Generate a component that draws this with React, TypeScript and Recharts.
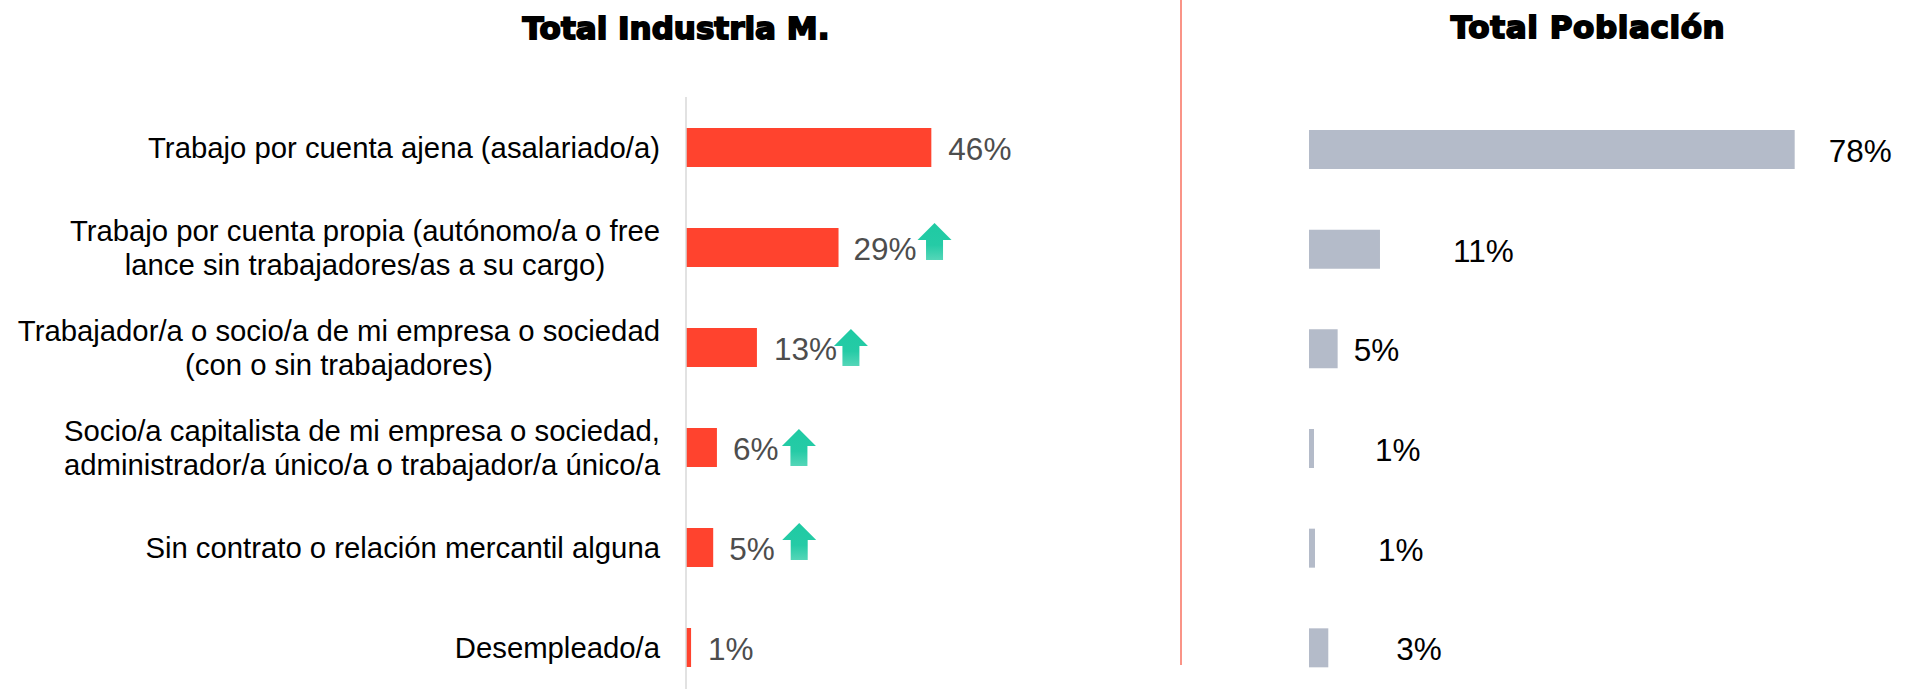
import React from "react";
import { BarChart, Bar, XAxis, YAxis, LabelList } from "recharts";

const categories = [
  "Trabajo por cuenta ajena (asalariado/a)",
  "Trabajo por cuenta propia (autónomo/a o free\nlance sin trabajadores/as a su cargo)",
  "Trabajador/a o socio/a de mi empresa o sociedad\n(con o sin trabajadores)",
  "Socio/a capitalista de mi empresa o sociedad,\nadministrador/a único/a o trabajador/a único/a",
  "Sin contrato o relación mercantil alguna",
  "Desempleado/a",
];
const industriaValues = [46, 28.6, 13.3, 5.8, 5.1, 0.95];
const poblacionValues = [78, 11.4, 4.6, 0.8, 0.96, 3.1];
const risingFlags = [false, true, true, true, true, false];
const titles = ["Total Industria M.", "Total Población"];

const industriaData = categories.map((name, i) => ({
  name,
  value: industriaValues[i],
  rising: risingFlags[i],
}));
const poblacionData = categories.map((name, i) => ({
  name,
  value: poblacionValues[i],
}));

const leftLabelGap = [17, 15, 17, 16, 16, 17];
const rightLabelGap = [34, 73, 16, 61, 63, 68];
const arrowDx = [0, 96, 94, 82, 86, 0];
const arrowDy = [0, -5, 1, 1, -5, 0];

const FONT = "'Liberation Sans', Arial, sans-serif";
const CAT_SIZE = 29.3;

const measure = (s: string) => {
  const ctx = document.createElement("canvas").getContext("2d")!;
  ctx.font = `${CAT_SIZE}px 'Liberation Sans'`;
  return ctx.measureText(s).width;
};

const CategoryTick = (props: any) => {
  const { y, payload } = props;
  const lines = String(payload.value).split("\n");
  const lh = 34;
  const start = y - ((lines.length - 1) * lh) / 2 + 1;
  const right = 660;
  const blockWidth = Math.max(...lines.map(measure));
  const cx = right - blockWidth / 2;
  return (
    <text x={cx} y={start} textAnchor="middle" fontFamily={FONT} fontSize={CAT_SIZE} fill="#000">
      {lines.map((l: string, i: number) => (
        <tspan key={i} x={cx} y={start + i * lh} dy="0.35em">
          {l}
        </tspan>
      ))}
    </text>
  );
};

const valueLabel = (gaps: number[], fill: string) => (props: any) => {
  const { x, y, width, height, value, index } = props;
  return (
    <text
      x={x + width + gaps[index]}
      y={y + height / 2 + 1.5}
      dy="0.35em"
      fontFamily={FONT}
      fontSize={31.5}
      fill={fill}
    >
      {Math.round(value)}%
    </text>
  );
};

const arrowLabel = (props: any) => {
  const { x, y, width, index } = props;
  if (!risingFlags[index]) return null;
  const cx = x + width + arrowDx[index];
  const top = y + arrowDy[index];
  const d = `M${cx} ${top}L${cx + 17} ${top + 17}H${cx + 8.5}V${top + 37}H${cx - 8.5}V${top + 17}H${cx - 17}Z`;
  return <path d={d} fill="url(#arrowFill2)" />;
};

const titleProps = {
  textAnchor: "middle" as const,
  fontFamily: "'DejaVu Sans', sans-serif",
  fontWeight: 700,
  fontSize: 31,
  stroke: "#000",
  strokeWidth: 1.8,
  fill: "#000",
};

export default function App() {
  return (
    <div style={{ position: "absolute", left: 0, top: 0, width: 1906, height: 689, overflow: "hidden", background: "#fff" }}>
      <svg width={1906} height={689} style={{ position: "absolute", left: 0, top: 0 }}>
        <text x={676} y={39} {...titleProps}>
          {titles[0]}
        </text>
        <text x={1588} y={38} {...titleProps} letterSpacing={0.6}>
          {titles[1]}
        </text>
        <line x1={1181} y1={0} x2={1181} y2={665} stroke="#f9705f" strokeWidth={1.5} />
      </svg>
      <div style={{ position: "absolute", left: 0, top: 97 }}>
        <BarChart
          width={1166}
          height={600}
          data={industriaData}
          layout="vertical"
          margin={{ top: 0, right: 0, bottom: 0, left: 0 }}
          barSize={39}
        >
          <defs>
            <linearGradient id="arrowFill2" x1="0" y1="0" x2="0" y2="1">
              <stop offset="0%" stopColor="#1fcaa3" />
              <stop offset="60%" stopColor="#25cba6" />
              <stop offset="100%" stopColor="#55d6b8" />
            </linearGradient>
          </defs>
          <XAxis type="number" domain={[0, 90]} hide />
          <YAxis
            type="category"
            dataKey="name"
            width={686}
            interval={0}
            axisLine={{ stroke: "#d9d9d9", strokeWidth: 1.5 }}
            tickLine={false}
            tick={<CategoryTick />}
          />
          <Bar dataKey="value" fill="#ff432e" isAnimationActive={false}>
            <LabelList dataKey="value" content={valueLabel(leftLabelGap, "#4d4d4d")} />
            <LabelList dataKey="value" content={arrowLabel} />
          </Bar>
        </BarChart>
      </div>
      <div style={{ position: "absolute", left: 1190, top: 99.5 }}>
        <BarChart
          width={741.7}
          height={598}
          data={poblacionData}
          layout="vertical"
          margin={{ top: 0, right: 0, bottom: 0, left: 119 }}
          barSize={39}
        >
          <XAxis type="number" domain={[0, 100]} hide />
          <YAxis type="category" dataKey="name" hide />
          <Bar dataKey="value" fill="#b4bbc9" isAnimationActive={false}>
            <LabelList dataKey="value" content={valueLabel(rightLabelGap, "#000")} />
          </Bar>
        </BarChart>
      </div>
    </div>
  );
}
